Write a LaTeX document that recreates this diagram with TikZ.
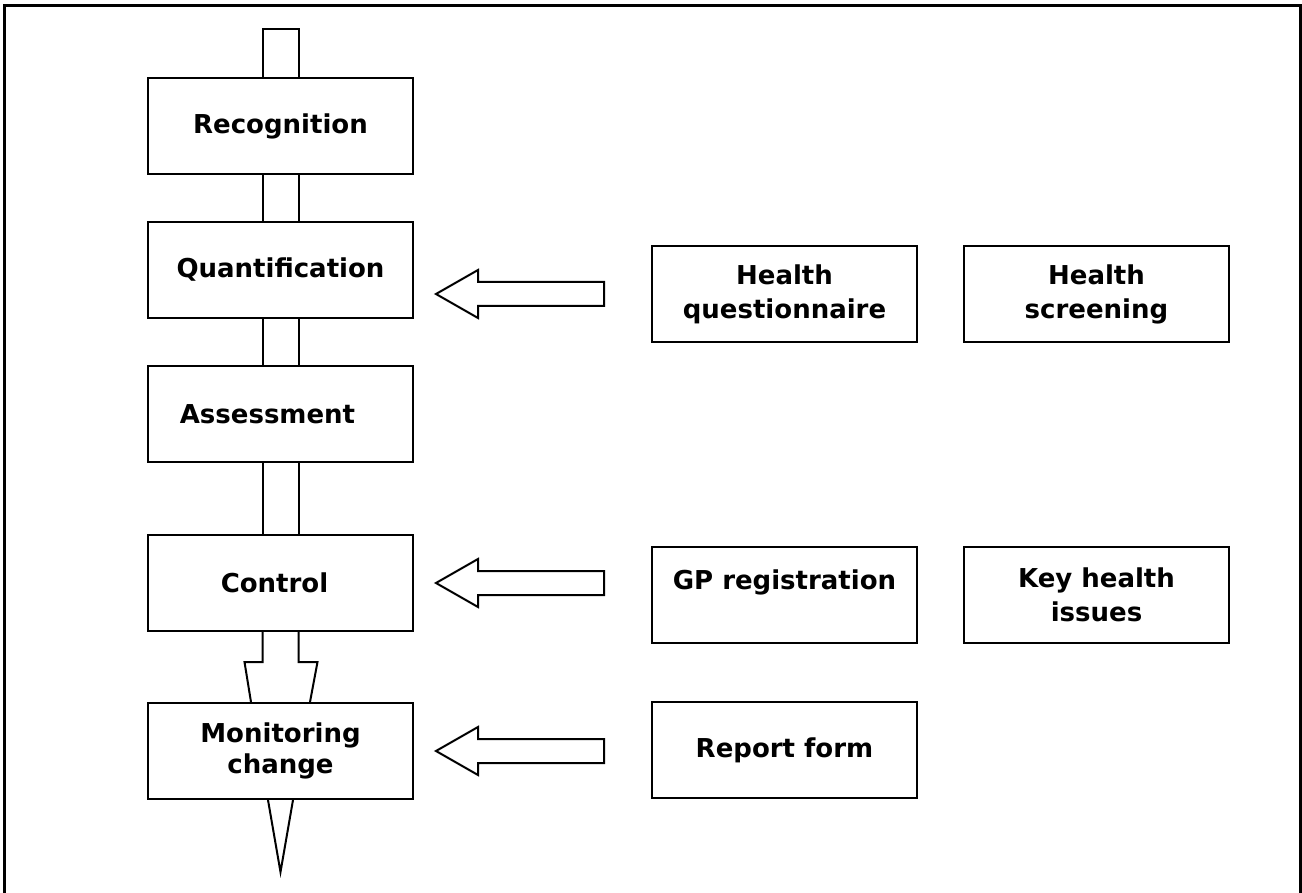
\documentclass[tikz,border=0pt]{standalone}
\usepackage{fontspec}
\setmainfont{DejaVu Sans}
\begin{document}
\begin{tikzpicture}[x=1pt,y=-1pt,
  box/.style={draw, line width=2pt, minimum width=265pt, minimum height=96pt, inner sep=0pt, align=center, font=\fontsize{26}{34}\selectfont\bfseries},
  lbl/.style={inner sep=0pt, align=center, font=\fontsize{26}{34}\selectfont\bfseries},
  pipe/.style={draw, line width=2pt, line join=miter},
  frameline/.style={draw, line width=3pt},
  fatarrow/.pic={\draw[line width=2pt, line join=miter] (0,0) -- (42,-24) -- (42,-12) -- (168,-12) -- (168,12) -- (42,12) -- (42,24) -- cycle;}]
\useasboundingbox (0,0) rectangle (1302,893);
\draw[frameline] (4,893) -- (4,6) -- (1300,6) -- (1300,893);

% left column
\node[box] (rec) at (280.5,126) {Recognition};
\node[box] (quant) at (280.5,270) {Quantification};
\node[box] (assess) at (280.5,414) {};
\node[lbl] (assesstxt) at ([xshift=-13pt]assess.center) {Assessment};
\node[box] (ctrl) at (280.5,583) {};
\node[lbl] (ctrltxt) at ([xshift=-6pt]ctrl.center) {Control};
\node[box, font=\fontsize{26}{31}\selectfont\bfseries] (mon) at (280.5,751) {Monitoring\\change};

% right boxes
\node[box] (hq) at (784.5,294) {Health\\questionnaire};
\node[box] (hs) at (1096.5,294) {Health\\screening};
\node[box] (gp) at (784.5,595) {};
\node[lbl] (gptxt) at ([yshift=13pt]gp.center) {GP registration};
\node[box] (kh) at (1096.5,595) {Key health\\issues};
\node[box] (rf) at (784.5,750) {Report form};

% pipe
\draw[pipe] ([xshift=-18pt]rec.north) -- ++(0,-48) -- ++(36,0) -- ([xshift=18pt]rec.north);
\draw[pipe] ([xshift=-18pt]rec.south) -- ([xshift=-18pt]quant.north);
\draw[pipe] ([xshift=18pt]rec.south) -- ([xshift=18pt]quant.north);
\draw[pipe] ([xshift=-18pt]quant.south) -- ([xshift=-18pt]assess.north);
\draw[pipe] ([xshift=18pt]quant.south) -- ([xshift=18pt]assess.north);
\draw[pipe] ([xshift=-18pt]assess.south) -- ([xshift=-18pt]ctrl.north);
\draw[pipe] ([xshift=18pt]assess.south) -- ([xshift=18pt]ctrl.north);
\draw[pipe] ([xshift=-18pt]ctrl.south) -- ++(0,30) -- ++(-18,0) -- ([xshift=-29.5pt]mon.north);
\draw[pipe] ([xshift=18pt]ctrl.south) -- ++(0,30) -- ++(19,0) -- ([xshift=29.5pt]mon.north);
\coordinate (tip) at (280.5,872);
\draw[pipe] ([xshift=-12.5pt]mon.south) -- (tip) -- ([xshift=12.5pt]mon.south);

% fat arrows
\coordinate (a1) at (436,294);
\coordinate (a2) at (436,583);
\coordinate (a3) at (436,751);
\pic at (a1) {fatarrow};
\pic at (a2) {fatarrow};
\pic at (a3) {fatarrow};
\end{tikzpicture}
\end{document}
